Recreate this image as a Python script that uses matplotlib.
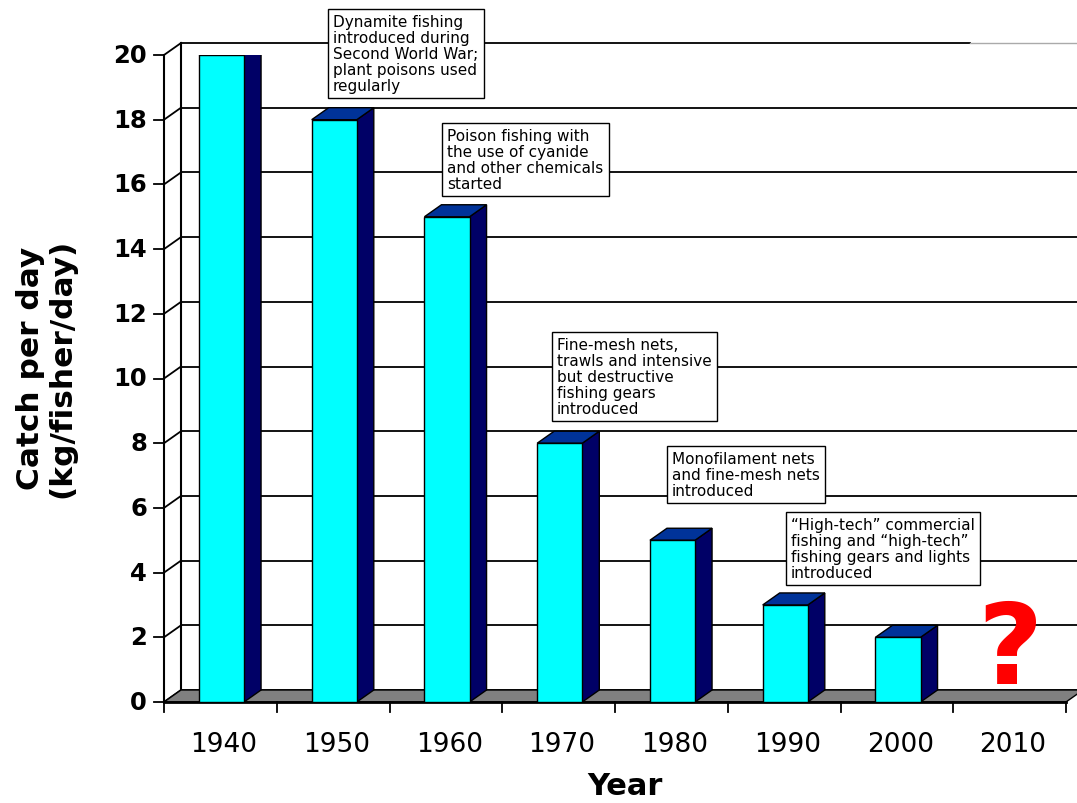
import matplotlib.pyplot as plt
from matplotlib.patches import Polygon, Rectangle

years = ['1940', '1950', '1960', '1970', '1980', '1990', '2000', '2010']
catch = [20, 18, 15, 8, 5, 3, 2]
yticks = [0, 2, 4, 6, 8, 10, 12, 14, 16, 18, 20]

notes = [
    "Dynamite fishing\nintroduced during\nSecond World War;\nplant poisons used\nregularly",
    "Poison fishing with\nthe use of cyanide\nand other chemicals\nstarted",
    "Fine-mesh nets,\ntrawls and intensive\nbut destructive\nfishing gears\nintroduced",
    "Monofilament nets\nand fine-mesh nets\nintroduced",
    "\u201cHigh-tech\u201d commercial\nfishing and \u201chigh-tech\u201d\nfishing gears and lights\nintroduced",
]
# top-left corner of each note text, in pixels
note_pos = [(333, 15), (447, 129), (557, 338), (672, 452), (791, 518)]

W, H = 1077, 804
fig = plt.figure(figsize=(W / 100, H / 100), dpi=100)
ax = fig.add_axes([164 / W, (H - 703) / H, 902 / W, 647 / H])
ax.set_xlim(0, 8)
ax.set_ylim(0, 20)
ax.axis('off')

# depth offset of the 3d look, in data units
dx = 17 / 112.75
dy = 12 / 32.35
n = len(years)

# back wall grid + diagonals to front axis
for v in yticks:
    xe = 7.15 if v == 20 else n + dx
    ax.plot([dx, xe], [v + dy, v + dy], color='black', lw=1.3, zorder=1, clip_on=False)
    ax.plot([0, dx], [v, v + dy], color='black', lw=1.3, zorder=1, clip_on=False)
    ax.plot([-0.089, 0], [v, v], color='black', lw=1.3, zorder=4, clip_on=False)
    ax.text(-0.15, v, str(v), ha='right', va='center', fontsize=17.5,
            fontweight='bold', color='black')
ax.plot([7.15, n + dx], [20 + dy, 20 + dy], color='#aaaaaa', lw=1.0, zorder=1, clip_on=False)
ax.plot([dx, dx], [dy, 20 + dy], color='black', lw=1.5, zorder=1, clip_on=False)
ax.plot([0, 0], [0, 20], color='black', lw=1.5, zorder=4, clip_on=False)

# floor
floor = Polygon([(0, 0), (n, 0), (n + dx, dy), (dx, dy)], closed=True,
                facecolor='#808080', edgecolor='black', lw=1, zorder=2, clip_on=False)
ax.add_patch(floor)
ax.plot([0, n], [0, 0], color='black', lw=2, zorder=2.5, clip_on=False)

# x ticks and labels
for i in range(n + 1):
    ax.plot([i, i], [0, -0.31], color='black', lw=1.3, zorder=4, clip_on=False)
for i, yr in enumerate(years):
    ax.text(i + 0.53, -1.3, yr, ha='center', va='center', fontsize=19, color='black')

# bars
w = 0.4
for i, v in enumerate(catch):
    x0 = i + 0.31
    x1 = x0 + w
    side = Polygon([(x1, 0), (x1 + dx, dy), (x1 + dx, v + dy), (x1, v)], closed=True,
                   facecolor='#000066', edgecolor='black', lw=1, zorder=3)
    top = Polygon([(x0, v), (x1, v), (x1 + dx, v + dy), (x0 + dx, v + dy)], closed=True,
                  facecolor='#003399', edgecolor='black', lw=1, zorder=3)
    front = Rectangle((x0, 0), w, v, facecolor='#00FFFF', edgecolor='black', lw=1, zorder=3.5)
    ax.add_patch(side)
    ax.add_patch(top)
    ax.add_patch(front)

# question mark for 2010
ax.text(7.5, 0.59, '?', ha='center', va='baseline', fontsize=81, fontweight='bold',
        color='red', family='DejaVu Sans', zorder=5)

# notes
for txt, (px, py) in zip(notes, note_pos):
    fig.text(px / W, 1 - py / H, txt, ha='left', va='top', fontsize=11,
             linespacing=1.08, zorder=6,
             bbox=dict(boxstyle='square,pad=0.35', facecolor='white', edgecolor='black', lw=1))

fig.text(46 / W, 1 - 368 / H, 'Catch per day\n(kg/fisher/day)', rotation=90,
         ha='center', va='center', fontsize=22.5, fontweight='bold', linespacing=1.1)
fig.text(625 / W, 1 - 787 / H, 'Year', ha='center', va='center', fontsize=22,
         fontweight='bold')

fig.savefig('out.png', dpi=100, facecolor='white')
